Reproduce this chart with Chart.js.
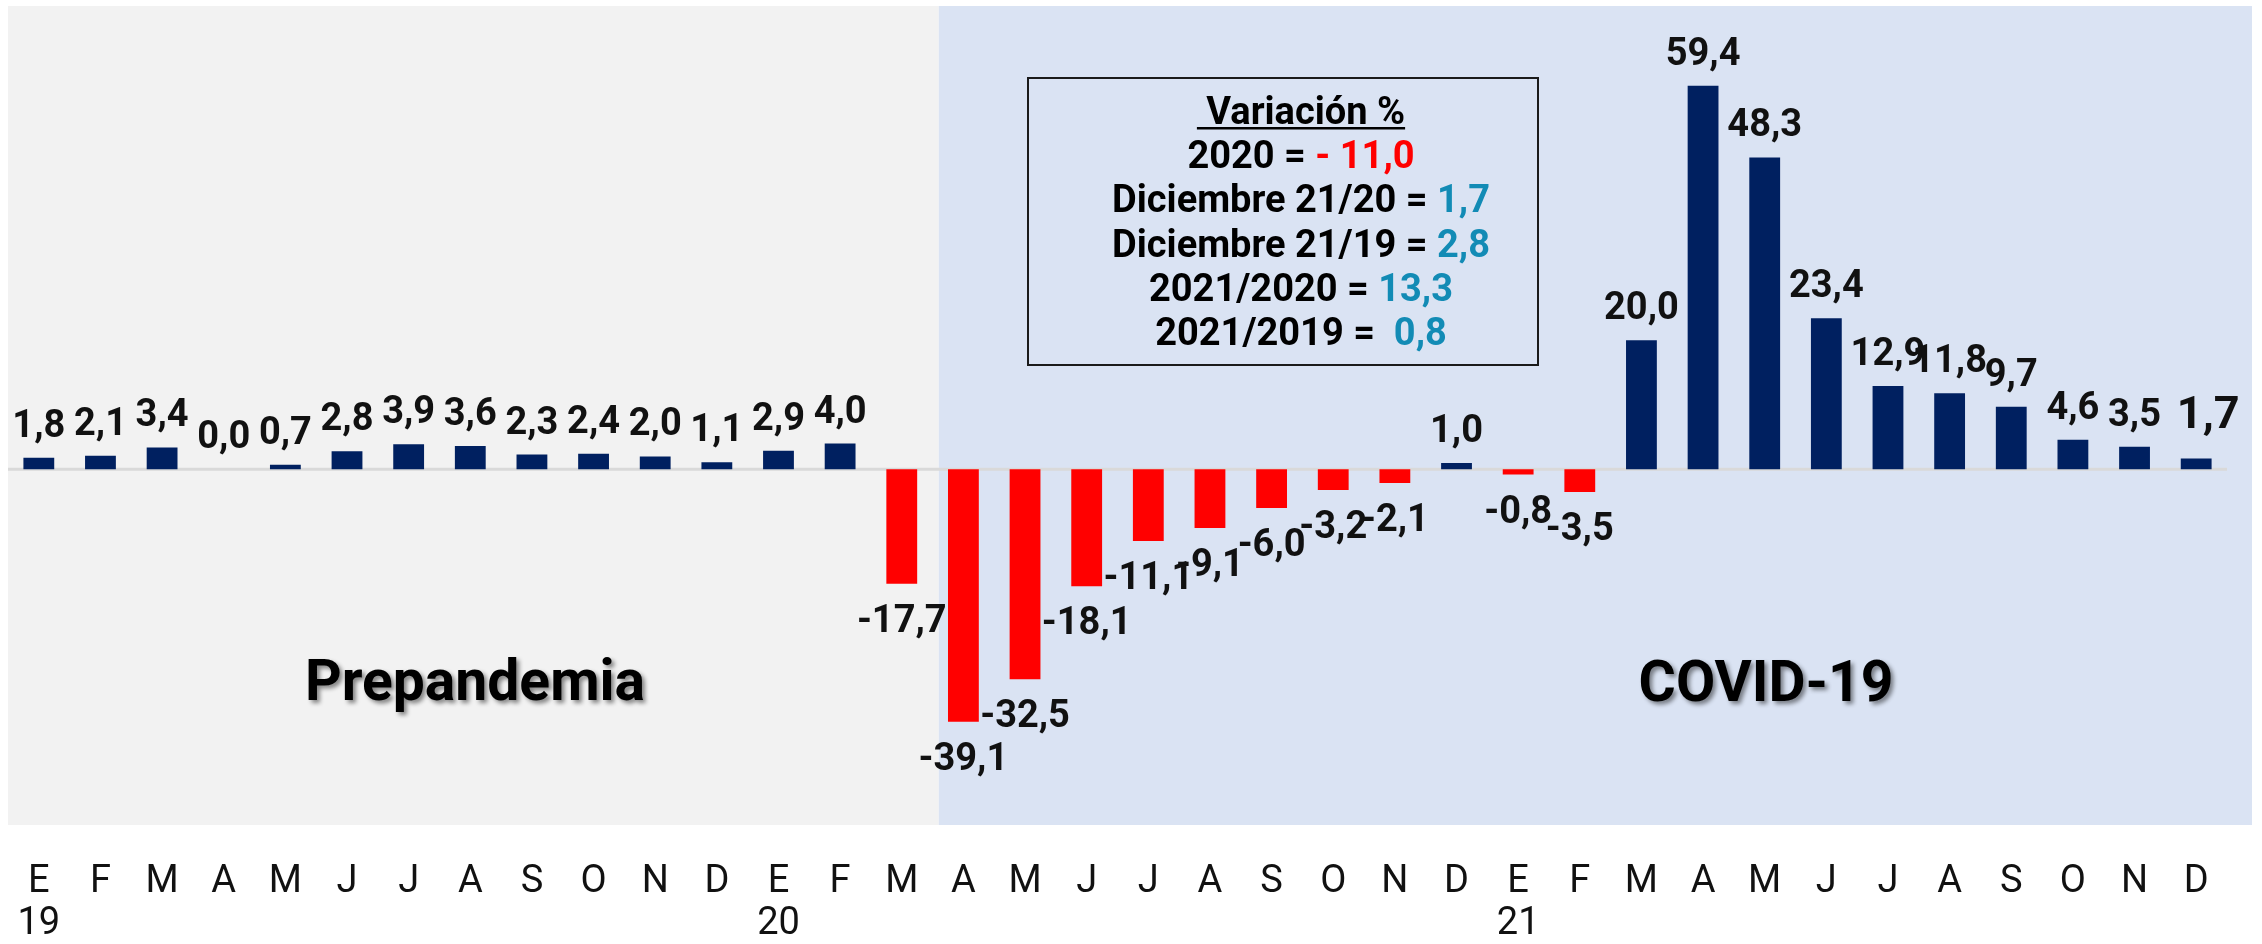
<!DOCTYPE html>
<html>
<head>
<meta charset="utf-8">
<script src="https://cdn.jsdelivr.net/npm/chart.js@4.4.0/dist/chart.umd.min.js"></script>
<style>
html,body{margin:0;padding:0;background:#ffffff;}
#wrap{width:2262px;height:944px;position:relative;}
</style>
</head>
<body>
<div id="wrap"><canvas id="c" width="2262" height="944"></canvas></div>
<script>
// ---- data ----
const months = ['E','F','M','A','M','J','J','A','S','O','N','D',
                'E','F','M','A','M','J','J','A','S','O','N','D',
                'E','F','M','A','M','J','J','A','S','O','N','D'];
const years = ['19','','','','','','','','','','','',
               '20','','','','','','','','','','','',
               '21','','','','','','','','','','',''];
const values = [1.8, 2.1, 3.4, 0.0, 0.7, 2.8, 3.9, 3.6, 2.3, 2.4, 2.0, 1.1,
                2.9, 4.0, -17.7, -39.1, -32.5, -18.1, -11.1, -9.1, -6.0, -3.2, -2.1, 1.0,
                -0.8, -3.5, 20.0, 59.4, 48.3, 23.4, 12.9, 11.8, 9.7, 4.6, 3.5, 1.7];
const sectionTitles = ['Prepandemia', 'COVID-19'];
const boxTitle = ' Variación %';
const boxLabels = ['2020 = ', 'Diciembre 21/20 = ', 'Diciembre 21/19 = ', '2021/2020 = ', '2021/2019 =  '];
const boxValues = ['- 11,0', '1,7', '2,8', '13,3', '0,8'];
const boxValueColors = ['#ff0000', '#128bb5', '#128bb5', '#128bb5', '#128bb5'];

const fmt = v => v.toFixed(1).replace('.', ',');
const labels = months.map((m, i) => years[i] ? [m, years[i]] : [m]);

const decor = {
  id: 'decor',
  beforeDraw(chart) {
    const {ctx, chartArea, scales} = chart;
    const x = scales.x;
    const step = x.getPixelForValue(1) - x.getPixelForValue(0);
    const split = x.getPixelForValue(14) + step * 0.6;
    ctx.save();
    ctx.fillStyle = '#f2f2f2';
    ctx.fillRect(chartArea.left, 6, split - chartArea.left, 819);
    ctx.fillStyle = '#dae3f3';
    ctx.fillRect(split, 6, 2252 - split, 819);
    ctx.restore();
  },
  beforeDatasetsDraw(chart) {
    const {ctx, chartArea, scales} = chart;
    const y0 = scales.y.getPixelForValue(0);
    ctx.save();
    ctx.strokeStyle = '#d9d9d9';
    ctx.lineWidth = 3;
    ctx.beginPath();
    ctx.moveTo(chartArea.left, y0);
    ctx.lineTo(chartArea.right, y0);
    ctx.stroke();
    ctx.restore();
  },
  afterDatasetsDraw(chart) {
    const {ctx} = chart;
    const meta = chart.getDatasetMeta(0);
    ctx.save();
    ctx.fillStyle = '#111111';
    ctx.textAlign = 'center';
    ctx.textBaseline = 'alphabetic';
    meta.data.forEach((bar, i) => {
      const v = values[i];
      const last = i === values.length - 1;
      ctx.font = 'bold ' + (last ? 45 : 38) + 'px Roboto';
      const txt = fmt(v);
      if (v >= 0) {
        ctx.fillText(txt, bar.x + (last ? 12 : 0), bar.y - (last ? 30 : 21));
      } else {
        ctx.fillText(txt, bar.x, bar.y + 21 + 27);
      }
    });
    ctx.restore();

    // Section titles with shadow
    ctx.save();
    ctx.font = 'bold 57px Roboto';
    ctx.textAlign = 'center';
    ctx.textBaseline = 'alphabetic';
    ctx.fillStyle = '#000000';
    ctx.shadowColor = 'rgba(0,0,0,0.45)';
    ctx.shadowOffsetX = 3;
    ctx.shadowOffsetY = 3;
    ctx.shadowBlur = 4;
    ctx.fillText(sectionTitles[0], 475, 700);
    ctx.fillText(sectionTitles[1], 1766, 701);
    ctx.restore();

    // Annotation box
    ctx.save();
    const bx = 1028, by = 78, bw = 510, bh = 287;
    ctx.strokeStyle = '#1a1a1a';
    ctx.lineWidth = 2;
    ctx.strokeRect(bx, by, bw, bh);
    const cx = bx + bw / 2 + 18;
    ctx.font = 'bold 38px Roboto';
    ctx.textBaseline = 'alphabetic';
    ctx.textAlign = 'left';
    ctx.fillStyle = '#000000';
    let w = ctx.measureText(boxTitle).width;
    let sx = cx - w / 2;
    ctx.fillText(boxTitle, sx, 124);
    ctx.fillRect(sx, 127, w, 2.5);
    const baselines = [168, 212, 257, 301, 345];
    boxLabels.forEach((lab, i) => {
      const w1 = ctx.measureText(lab).width;
      const w2 = ctx.measureText(boxValues[i]).width;
      let x0 = cx - (w1 + w2) / 2;
      ctx.fillStyle = '#000000';
      ctx.fillText(lab, x0, baselines[i]);
      ctx.fillStyle = boxValueColors[i];
      ctx.fillText(boxValues[i], x0 + w1, baselines[i]);
    });
    ctx.restore();
  }
};

new Chart(document.getElementById('c'), {
  type: 'bar',
  data: {
    labels: labels,
    datasets: [{
      data: values,
      backgroundColor: values.map(v => v < 0 ? '#ff0000' : '#002060'),
      borderWidth: 0,
      categoryPercentage: 1,
      barPercentage: 0.5
    }]
  },
  options: {
    responsive: false,
    animation: false,
    layout: {padding: {left: 8, right: 35, top: 6, bottom: -4}},
    plugins: {legend: {display: false}, tooltip: {enabled: false}},
    scales: {
      x: {
        grid: {display: false, drawTicks: false},
        border: {display: false},
        ticks: {color: '#111111', font: {family: 'Roboto', size: 38, lineHeight: 1.1}, padding: 3, maxRotation: 0, minRotation: 0, autoSkip: false}
      },
      y: {display: false, min: -60.25, max: 71.76}
    }
  },
  plugins: [decor]
});
</script>
</body>
</html>
